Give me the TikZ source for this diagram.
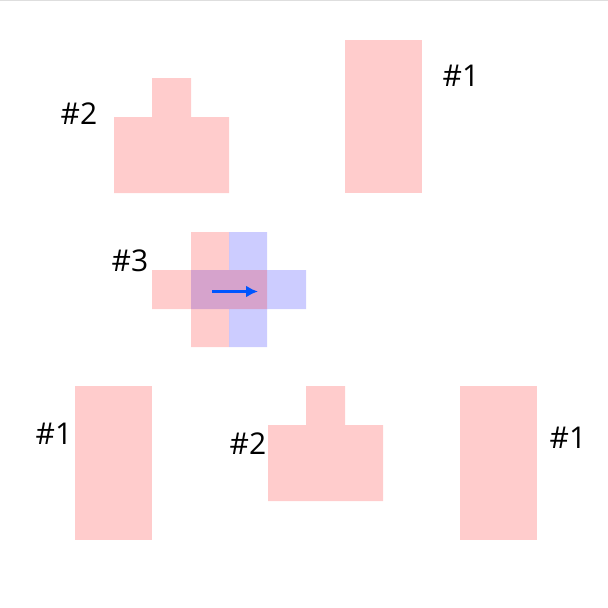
\documentclass[tikz,border=0pt]{standalone}
\usepackage{fontspec}
\usetikzlibrary{arrows.meta}
\setmainfont{Open Sans}
\definecolor{arrowblue}{RGB}{0,85,255}
\begin{document}
\begin{tikzpicture}[x=1pt,y=-1pt,
  redfill/.style={fill=red,fill opacity=0.2,draw=none},
  bluefill/.style={fill=blue,fill opacity=0.2,draw=none},
  lbl/.style={font=\fontsize{30}{36}\selectfont,inner sep=0pt,anchor=center}]
\useasboundingbox (0,0) rectangle (608,608);
\fill[white] (0,0) rectangle (608,608);
\draw[black!13,line width=1.2pt] (0,0.6) -- (608,0.6);
% top #1
\fill[redfill] (345,40) rectangle (422,193);
\node[lbl] (t1) at (461,76) {\#1};
% top #2
\fill[redfill] (152,78) -- (191,78) -- (191,117) -- (229,117) -- (229,193) -- (114,193) -- (114,117) -- (152,117) -- cycle;
\node[lbl] (t2) at (79,114) {\#2};
% #3 crosses
\fill[bluefill] (229,232) -- (267,232) -- (267,270) -- (306,270) -- (306,309) -- (267,309) -- (267,347) -- (229,347) -- (229,309) -- (191,309) -- (191,270) -- (229,270) -- cycle;
\fill[redfill] (191,232) -- (229,232) -- (229,270) -- (267,270) -- (267,309) -- (229,309) -- (229,347) -- (191,347) -- (191,309) -- (152,309) -- (152,270) -- (191,270) -- cycle;
\node[lbl] (t3) at (130,261) {\#3};
\coordinate (as) at (212,291.5);
\coordinate (ae) at (258,291.5);
\draw[-{Latex[length=12pt,width=12pt]},line width=3pt,arrowblue] (as) -- (ae);
% bottom left #1
\fill[redfill] (75,386) rectangle (152,540);
\node[lbl] (b1) at (54,434) {\#1};
% bottom #2
\fill[redfill] (306,386) -- (345,386) -- (345,425) -- (383,425) -- (383,501) -- (268,501) -- (268,425) -- (306,425) -- cycle;
\node[lbl] (b2) at (248,444) {\#2};
% bottom right #1
\fill[redfill] (460,386) rectangle (537,540);
\node[lbl] (b3) at (568,438) {\#1};
\end{tikzpicture}
\end{document}
